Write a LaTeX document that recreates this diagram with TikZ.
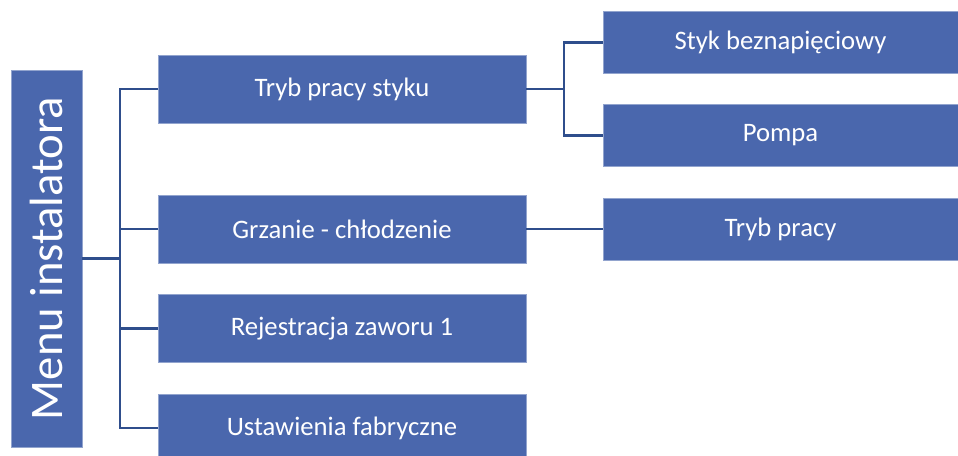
\documentclass[tikz,border=0pt]{standalone}
\usepackage{fontspec}
\setmainfont{Carlito}
\usepackage{xcolor}
\definecolor{boxblue}{HTML}{4A67AD}
\definecolor{linkblue}{HTML}{2F4E8C}
\usetikzlibrary{positioning, calc}

\tikzset{
  menubox/.style={rectangle, fill=boxblue, draw=boxblue!60!white, line width=0.4pt,
    text=white, font=\fontsize{20}{24}\selectfont, inner sep=0pt},
  levelbox/.style={menubox, minimum width=276pt, minimum height=51pt},
  subbox/.style={menubox, minimum width=266pt, minimum height=46.5pt},
  link/.style={draw=linkblue, line width=1.6pt}
}

\begin{document}
\begin{tikzpicture}[x=0.75pt,y=-0.75pt]
\useasboundingbox (0,0) rectangle (958,456);

% Root
\node[menubox, rotate=90, minimum width=282.75pt, minimum height=53.25pt,
  font=\fontsize{35}{40}\selectfont] (menu) at (46.5,258.5) {Menu instalatora};

% First level
\node[levelbox] (styk) at (342,89) {Tryb pracy styku};
\node[levelbox] (grzanie) at (342,229) {Grzanie - chłodzenie};
\node[levelbox] (rejestracja) at (342,328.5) {Rejestracja zaworu 1};
\node[levelbox] (fabryczne) at (342,428) {Ustawienia fabryczne};

% Second level
\node[subbox] (beznap) at (780.5,42.5) {Styk beznapięciowy};
\node[subbox] (pompa) at (780.5,135.5) {Pompa};
\node[subbox] (tryb) at (780.5,229) {Tryb pracy};

% Connectors
\coordinate (trunk) at (120,258.5);
\coordinate (fork) at (564,89);
\draw[link] (menu.south) -- (trunk);
\foreach \n in {styk,grzanie,rejestracja,fabryczne}
  \draw[link] (trunk) |- (\n.west);
\draw[link] (styk.east) -- (fork);
\draw[link] (fork) |- (beznap.west);
\draw[link] (fork) |- (pompa.west);
\draw[link] (grzanie.east) -- (tryb.west);
\end{tikzpicture}
\end{document}
